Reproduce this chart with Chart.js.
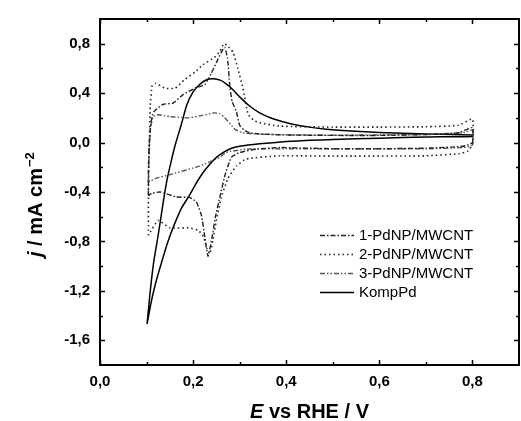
<!DOCTYPE html>
<html>
<head>
<meta charset="utf-8">
<script src="https://cdn.jsdelivr.net/npm/chart.js"></script>
<style>
 body { margin: 0; background: #fff; }
 canvas { display: block; }
</style>
</head>
<body>
<canvas id="cv" width="521" height="421"></canvas>
<script>
// axis ticks
const xTicks = [0.0, 0.2, 0.4, 0.6, 0.8];
const xMinor = [0.1, 0.3, 0.5, 0.7];
const yTicks = [-1.6, -1.2, -0.8, -0.4, 0.0, 0.4, 0.8];
const yMinor = [-1.4, -1.0, -0.6, -0.2, 0.2, 0.6];

const seriesNames = ['1-PdNP/MWCNT', '2-PdNP/MWCNT', '3-PdNP/MWCNT', 'KompPd'];

// 1-PdNP/MWCNT, anodic sweep then back
const e1 = [0.104,0.104,0.106,0.109,0.113,0.118,0.136,0.157,0.179,0.204,0.225,0.239,0.254,0.262,0.268,0.274,0.279,0.284,0.293,0.300,0.310,0.321,0.340,0.400,0.500,0.600,0.700,0.770,0.800,
            0.800,0.780,0.700,0.600,0.500,0.386,0.336,0.300,0.282,0.268,0.257,0.248,0.240,0.232,0.225,0.218,0.207,0.193,0.164,0.129,0.112,0.104];
const j1 = [-0.43,-0.20,0.00,0.15,0.23,0.26,0.31,0.32,0.39,0.44,0.47,0.56,0.68,0.74,0.77,0.68,0.45,0.33,0.25,0.14,0.10,0.08,0.07,0.062,0.058,0.058,0.065,0.080,0.120,
            0.000,-0.030,-0.045,-0.050,-0.050,-0.040,-0.053,-0.080,-0.120,-0.270,-0.450,-0.600,-0.780,-0.920,-0.760,-0.590,-0.480,-0.445,-0.440,-0.400,-0.410,-0.43];

// 2-PdNP/MWCNT
const e2 = [0.104,0.104,0.106,0.108,0.112,0.120,0.139,0.161,0.182,0.204,0.221,0.246,0.258,0.266,0.272,0.286,0.296,0.307,0.318,0.330,0.343,0.386,0.500,0.600,0.700,0.770,0.800,
            0.800,0.790,0.770,0.700,0.500,0.386,0.314,0.293,0.275,0.260,0.250,0.243,0.236,0.230,0.222,0.211,0.190,0.150,0.125,0.104];
const j2 = [-0.75,-0.40,-0.03,0.30,0.46,0.48,0.44,0.44,0.51,0.57,0.63,0.69,0.74,0.80,0.79,0.73,0.60,0.44,0.23,0.18,0.16,0.133,0.125,0.125,0.128,0.140,0.190,
            -0.010,-0.070,-0.090,-0.107,-0.110,-0.107,-0.133,-0.190,-0.290,-0.450,-0.630,-0.780,-0.900,-0.860,-0.760,-0.710,-0.690,-0.690,-0.630,-0.75];

// 3-PdNP/MWCNT
const e3 = [0.104,0.105,0.108,0.114,0.125,0.150,0.190,0.220,0.245,0.257,0.268,0.280,0.290,0.305,0.330,0.400,0.500,0.700,0.780,0.800,
            0.800,0.780,0.700,0.500,0.400,0.314,0.271,0.257,0.214,0.150,0.120,0.104];
const j3 = [-0.32,-0.10,0.10,0.21,0.225,0.21,0.20,0.22,0.24,0.235,0.20,0.15,0.107,0.08,0.07,0.062,0.06,0.065,0.08,0.10,
            -0.02,-0.04,-0.05,-0.05,-0.05,-0.053,-0.08,-0.12,-0.19,-0.26,-0.29,-0.32];

// KompPd
const eK = [0.101,0.108,0.116,0.125,0.133,0.143,0.153,0.163,0.175,0.186,0.200,0.214,0.230,0.244,0.258,0.271,0.285,0.300,0.320,0.343,0.370,0.414,0.450,0.486,0.540,0.600,0.700,0.800,
            0.800,0.700,0.600,0.500,0.450,0.400,0.343,0.300,0.280,0.265,0.250,0.235,0.220,0.205,0.190,0.175,0.160,0.146,0.133,0.120,0.110,0.101];
const jK = [-1.47,-1.20,-0.95,-0.75,-0.55,-0.32,-0.15,0.00,0.15,0.30,0.41,0.47,0.51,0.517,0.505,0.475,0.43,0.37,0.30,0.24,0.195,0.148,0.125,0.108,0.093,0.082,0.070,0.062,
            0.050,0.045,0.035,0.025,0.018,0.008,-0.010,-0.030,-0.050,-0.080,-0.120,-0.180,-0.250,-0.340,-0.440,-0.530,-0.660,-0.800,-0.960,-1.130,-1.290,-1.47];

const FONT = '"Liberation Sans", Arial, sans-serif';
const fmt = v => v.toFixed(1).replace('.', ',');
const pts = (e, j) => e.map((v, i) => ({x: v, y: j[i]}));

function line(label, e, j, color, dash, width) {
 return {
  label: label,
  data: pts(e, j),
  showLine: true,
  borderColor: color,
  borderWidth: width,
  borderDash: dash,
  pointRadius: 0,
  fill: false,
  tension: 0.15
 };
}

// frame with inward ticks on all four sides, axis titles and legend
const decor = {
 id: 'decor',
 afterDraw(chart) {
  const ctx = chart.ctx;
  const a = chart.chartArea;
  const sx = chart.scales.x, sy = chart.scales.y;
  ctx.save();
  ctx.setLineDash([]);
  ctx.strokeStyle = '#000';
  ctx.lineWidth = 2;
  ctx.strokeRect(a.left, a.top, a.right - a.left, a.bottom - a.top);

  ctx.lineWidth = 1.5;
  ctx.beginPath();
  const xt = (vals, len) => vals.forEach(v => {
   const p = Math.round(sx.getPixelForValue(v)) + 0.5;
   ctx.moveTo(p, a.bottom); ctx.lineTo(p, a.bottom - len);
   ctx.moveTo(p, a.top); ctx.lineTo(p, a.top + len);
  });
  const yt = (vals, len) => vals.forEach(v => {
   const p = Math.round(sy.getPixelForValue(v)) + 0.5;
   ctx.moveTo(a.left, p); ctx.lineTo(a.left + len, p);
   ctx.moveTo(a.right, p); ctx.lineTo(a.right - len, p);
  });
  xt(xTicks, 5); xt(xMinor, 3);
  yt(yTicks, 5); yt(yMinor, 3);
  ctx.stroke();

  // y title: j / mA cm^-2
  ctx.fillStyle = '#000';
  ctx.textBaseline = 'alphabetic';
  ctx.textAlign = 'left';
  ctx.save();
  ctx.translate(42, 257);
  ctx.rotate(-Math.PI / 2);
  let px = 0;
  ctx.font = 'italic bold 20px ' + FONT;
  ctx.fillText('j', px, 0); px += ctx.measureText('j').width;
  ctx.font = 'bold 20px ' + FONT;
  ctx.fillText(' / mA cm', px, 0); px += ctx.measureText(' / mA cm').width;
  ctx.font = 'bold 13px ' + FONT;
  ctx.fillText('\u22122', px + 1, -8);
  ctx.restore();

  // x title: E vs RHE / V
  ctx.font = 'italic bold 20px ' + FONT;
  const wE = ctx.measureText('E').width;
  ctx.font = 'bold 20px ' + FONT;
  const wRest = ctx.measureText(' vs RHE / V').width;
  let x0 = (a.left + a.right) / 2 - (wE + wRest) / 2;
  ctx.font = 'italic bold 20px ' + FONT;
  ctx.fillText('E', x0, 418);
  ctx.font = 'bold 20px ' + FONT;
  ctx.fillText(' vs RHE / V', x0 + wE, 418);

  // legend
  ctx.font = '15px ' + FONT;
  ctx.textBaseline = 'middle';
  chart.data.datasets.forEach((ds, i) => {
   const yy = 235 + i * 19;
   ctx.beginPath();
   ctx.strokeStyle = ds.borderColor;
   ctx.lineWidth = ds.borderWidth;
   ctx.setLineDash(ds.borderDash);
   ctx.moveTo(320, yy + 0.5); ctx.lineTo(354, yy + 0.5);
   ctx.stroke();
   ctx.setLineDash([]);
   ctx.fillStyle = '#000';
   ctx.fillText(ds.label, 359, yy + 1);
  });
  ctx.restore();
 }
};

new Chart(document.getElementById('cv'), {
 type: 'scatter',
 data: {
  datasets: [
   line(seriesNames[0], e1, j1, '#222', [5, 2, 1.5, 2], 1.4),
   line(seriesNames[1], e2, j2, '#222', [1.5, 3], 1.6),
   line(seriesNames[2], e3, j3, '#555', [5, 2, 1.5, 2, 1.5, 2], 1.4),
   line(seriesNames[3], eK, jK, '#000', [], 1.5)
  ]
 },
 options: {
  responsive: false,
  animation: false,
  layout: { padding: { top: 15, right: 2, left: 0, bottom: 0 } },
  plugins: { legend: { display: false }, tooltip: { enabled: false } },
  scales: {
   x: {
    type: 'linear',
    min: 0, max: 0.9,
    grid: { display: false, drawTicks: false },
    border: { display: false },
    afterFit: s => { s.height = 56; },
    afterBuildTicks: s => { s.ticks = xTicks.map(v => ({value: v})); },
    ticks: {
     padding: 8,
     color: '#000',
     maxRotation: 0,
     font: { family: FONT, size: 15, weight: 'bold' },
     callback: v => fmt(v)
    }
   },
   y: {
    type: 'linear',
    min: -1.8, max: 1.0,
    grid: { display: false, drawTicks: false },
    border: { display: false },
    afterFit: s => { s.width = 100; },
    afterBuildTicks: s => { s.ticks = yTicks.map(v => ({value: v})); },
    ticks: {
     padding: 10,
     color: '#000',
     font: { family: FONT, size: 15, weight: 'bold' },
     callback: v => fmt(v)
    }
   }
  }
 },
 plugins: [decor]
});
</script>
</body>
</html>
